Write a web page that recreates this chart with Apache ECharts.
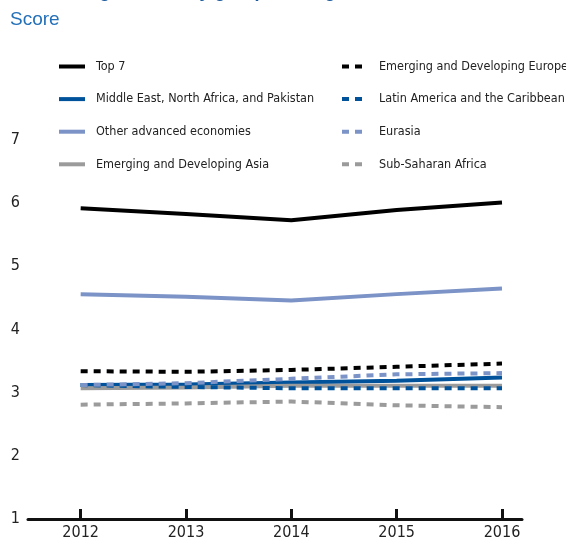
<!DOCTYPE html>
<html>
<head>
<meta charset="utf-8">
<script src="https://cdn.jsdelivr.net/npm/echarts@6/dist/echarts.min.js"></script>
<style>html,body{margin:0;padding:0;background:#fff}#c{width:566px;height:544px}</style>
</head>
<body>
<div id="c"></div>
<script>
const years = [2012, 2013, 2014, 2015, 2016];
const yTicks = [1, 2, 3, 4, 5, 6, 7];
const top7 = [5.92, 5.83, 5.73, 5.89, 6.01];
const menap = [3.12, 3.13, 3.16, 3.19, 3.24];
const otherAdv = [4.56, 4.52, 4.46, 4.56, 4.65];
const emAsia = [3.07, 3.08, 3.11, 3.11, 3.11];
const emEurope = [3.34, 3.33, 3.36, 3.41, 3.46];
const latAm = [3.12, 3.09, 3.07, 3.07, 3.07];
const eurasia = [3.12, 3.15, 3.22, 3.29, 3.31];
const ssa = [2.81, 2.83, 2.86, 2.80, 2.77];
const names = ['Top 7', 'Middle East, North Africa, and Pakistan', 'Other advanced economies', 'Emerging and Developing Asia',
  'Emerging and Developing Europe', 'Latin America and the Caribbean', 'Eurasia', 'Sub-Saharan Africa'];

const FONT = "'Liberation Sans Narrow', 'DejaVu Sans Condensed', 'Roboto', sans-serif";
const DARK = '#00529b', LIGHT = '#7b93c6', GRAY = '#9b9b9b';
const specs = [
  [top7, '#000000', 'solid'],
  [menap, DARK, 'solid'],
  [otherAdv, LIGHT, 'solid'],
  [emAsia, GRAY, 'solid'],
  [emEurope, '#000000', [7, 6]],
  [latAm, DARK, [7, 6]],
  [eurasia, LIGHT, [7, 6]],
  [ssa, GRAY, [7, 6]]
];
const series = specs.map((s, i) => ({
  name: names[i],
  type: 'line',
  symbol: 'none',
  silent: true,
  z: i === 0 || i === 2 ? 5 : 3,
  data: years.map((y, j) => [y, s[0][j]]),
  lineStyle: { color: s[1], width: 4, type: s[2] },
  itemStyle: { color: s[1] }
}));

const legendBase = {
  orient: 'vertical', itemWidth: 26, itemHeight: 14, itemGap: 19.6, top: 60, padding: 0,
  itemStyle: { opacity: 0 },
  lineStyle: { width: 4 },
  textStyle: { fontFamily: FONT, fontSize: 12.5, color: '#222', padding: [0, 0, 0, 6] },
  selectedMode: false
};

const chart = echarts.init(document.getElementById('c'), null, { renderer: 'canvas' });
chart.setOption({
  animation: false,
  backgroundColor: '#fff',
  graphic: [
    { type: 'text', left: 50, top: -16.5, style: { text: 'Average scores by group and region, 2012–16', fontFamily: "'Liberation Sans', Arial, sans-serif", fontWeight: 'bold', fontSize: 18, fill: '#1b5a9c' } },
    { type: 'text', left: 10, top: 10, style: { text: 'Score', fontFamily: "'Liberation Sans', Arial, sans-serif", fontSize: 19, fill: '#2470b8' } }
  ],
  legend: [
    Object.assign({}, legendBase, { left: 57, data: names.slice(0, 4) }),
    Object.assign({}, legendBase, { left: 340, data: names.slice(4) })
  ],
  grid: { left: 28, right: 44, top: 140, bottom: 25, containLabel: false },
  xAxis: {
    type: 'value', min: 2011.5, max: 2016.19,
    axisLine: { show: true, lineStyle: { color: '#111', width: 3 } },
    axisTick: { show: true, inside: true, length: 10, customValues: years, lineStyle: { color: '#111', width: 3 } },
    axisLabel: { customValues: years, formatter: v => String(v), fontFamily: FONT, fontSize: 16, color: '#222', margin: 6 },
    splitLine: { show: false }
  },
  yAxis: {
    type: 'value', min: 1, max: 7, interval: 1,
    axisLine: { show: false }, axisTick: { show: false }, splitLine: { show: false },
    axisLabel: { fontFamily: FONT, fontSize: 16, color: '#222', margin: 8, formatter: v => yTicks.includes(v) ? String(v) : '' }
  },
  series: series
});
</script>
</body>
</html>
